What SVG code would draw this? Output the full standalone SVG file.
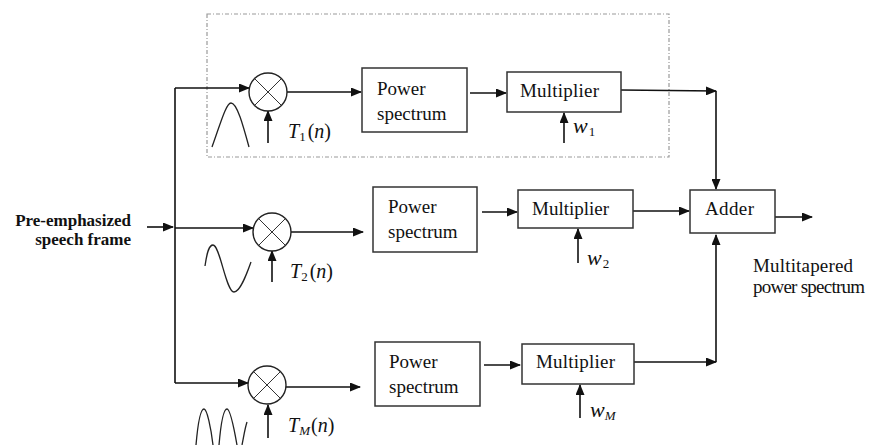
<svg xmlns="http://www.w3.org/2000/svg" width="876" height="445" viewBox="0 0 876 445">
<defs>
<marker id="ah" markerUnits="userSpaceOnUse" markerWidth="11" markerHeight="9" refX="10" refY="4.5" orient="auto">
<path d="M0,0 L11,4.5 L0,9 z" fill="#111"/>
</marker>
<style>
.box{fill:#fff;stroke:#333;stroke-width:1.5}
.ln{fill:none;stroke:#111;stroke-width:1.6}
.arr{fill:none;stroke:#111;stroke-width:1.6;marker-end:url(#ah)}
.circ{fill:#fff;stroke:#222;stroke-width:1.4}
.x{stroke:#333;stroke-width:1}
.t{font-family:"Liberation Serif",serif;font-size:19px;fill:#111}
.tb{font-family:"Liberation Serif",serif;font-size:17px;font-weight:bold;fill:#111}
.m{font-family:"Liberation Serif",serif;font-size:20px;fill:#111}
.i{font-style:italic}
.wave{fill:none;stroke:#222;stroke-width:1.3}
</style>
</defs>
<rect width="876" height="445" fill="#fff"/>

<rect id="group-box" x="207" y="14" width="462" height="143" fill="none" stroke="#9a9a9a" stroke-width="1.2" stroke-dasharray="4 2 1 2"/>

<g id="connectors">
<path class="arr" d="M147,227 L173,227"/>
<path class="ln" d="M175,88 L175,383" stroke="#444"/>
<path class="arr" d="M175,88 L249,88"/>
<path class="arr" d="M287,92 L361,92"/>
<path class="arr" d="M268,143 L268,111"/>
<path class="arr" d="M470,93 L506,93"/>
<path class="arr" d="M564,143 L564,113"/>
<path class="arr" d="M621,90 L716,91"/>
<path class="arr" d="M716,91 L716,189"/>
<path class="arr" d="M175,228 L253,228"/>
<path class="arr" d="M291,232 L363,232"/>
<path class="arr" d="M272,282 L272,251"/>
<path class="arr" d="M482,212 L517,212"/>
<path class="arr" d="M578,263 L578,229"/>
<path class="arr" d="M633,211 L689,211"/>
<path class="arr" d="M775,217 L812,217"/>
<path class="arr" d="M175,383 L248,383"/>
<path class="arr" d="M286,387 L360,387"/>
<path class="arr" d="M268,438 L268,405"/>
<path class="arr" d="M484,365 L520,365"/>
<path class="arr" d="M580,418 L580,385"/>
<path class="arr" d="M634,362 L716,362"/>
<path class="arr" d="M716,362 L716,235"/>
</g>

<g id="input-label">
<text class="tb" x="131" y="226" text-anchor="end">Pre-emphasized</text>
<text class="tb" x="131" y="245" text-anchor="end">speech frame</text>
</g>

<g id="mult-circle-1">
<circle class="circ" cx="268" cy="92" r="19"/>
<line class="x" x1="254.6" y1="78.6" x2="281.4" y2="105.4"/>
<line class="x" x1="281.4" y1="78.6" x2="254.6" y2="105.4"/>
</g>
<g id="mult-circle-2">
<circle class="circ" cx="272" cy="232" r="19"/>
<line class="x" x1="258.6" y1="218.6" x2="285.4" y2="245.4"/>
<line class="x" x1="285.4" y1="218.6" x2="258.6" y2="245.4"/>
</g>
<g id="mult-circle-M">
<circle class="circ" cx="267" cy="385" r="19"/>
<line class="x" x1="253.6" y1="371.6" x2="280.4" y2="398.4"/>
<line class="x" x1="280.4" y1="371.6" x2="253.6" y2="398.4"/>
</g>

<g id="taper-1">
<path class="wave" d="M212,147 C220,125 226,103 231,103 C237,103 243,125 249,147"/>
<text class="m" x="288" y="138"><tspan class="i">T</tspan><tspan font-size="13" dy="3">1</tspan><tspan dy="-3" dx="2">(</tspan><tspan class="i">n</tspan>)</text>
</g>
<g id="taper-2">
<path class="wave" d="M205,266 C207,252 209,245 213,245 C220,245 226,292 234,292 C240,292 246,276 251,262"/>
<text class="m" x="290" y="278"><tspan class="i">T</tspan><tspan font-size="13" dy="3">2</tspan><tspan dy="-3" dx="2">(</tspan><tspan class="i">n</tspan>)</text>
</g>
<g id="taper-M">
<path class="wave" stroke="#888" stroke-width="1.1" d="M196,445 C198,422 201,409 204,409 C207,409 211,428 213,445 M219,445 C221,422 224,409 227,409 C230,409 234,428 237,445 M242,445 C244,435 245,428 247,422"/>
<text class="m" x="288" y="432"><tspan class="i">T</tspan><tspan class="i" font-size="13" dy="3">M</tspan><tspan dy="-3" dx="1">(</tspan><tspan class="i">n</tspan>)</text>
</g>

<g id="power-spectrum-1">
<rect class="box" x="362" y="68" width="105" height="64"/>
<text class="t" x="377" y="95">Power</text>
<text class="t" x="377" y="120">spectrum</text>
</g>
<g id="power-spectrum-2">
<rect class="box" x="373" y="187" width="104" height="65"/>
<text class="t" x="388" y="213">Power</text>
<text class="t" x="388" y="238">spectrum</text>
</g>
<g id="power-spectrum-M">
<rect class="box" x="375" y="342" width="105" height="64"/>
<text class="t" x="389" y="368">Power</text>
<text class="t" x="389" y="393">spectrum</text>
</g>

<g id="multiplier-1">
<rect class="box" x="507" y="72" width="114" height="40"/>
<text class="t" x="520" y="97" textLength="79">Multiplier</text>
<text class="m" x="573" y="133"><tspan class="i" font-size="22">w</tspan><tspan font-size="13" dy="3" dx="1">1</tspan></text>
</g>
<g id="multiplier-2">
<rect class="box" x="518" y="190" width="115" height="38"/>
<text class="t" x="532" y="215" textLength="77">Multiplier</text>
<text class="m" x="587" y="265"><tspan class="i" font-size="22">w</tspan><tspan font-size="13" dy="3" dx="1">2</tspan></text>
</g>
<g id="multiplier-M">
<rect class="box" x="522" y="344" width="112" height="40"/>
<text class="t" x="536" y="368" textLength="79">Multiplier</text>
<text class="m" x="590" y="417"><tspan class="i" font-size="22">w</tspan><tspan class="i" font-size="13" dy="3">M</tspan></text>
</g>

<g id="adder">
<rect class="box" x="690" y="190" width="85" height="43"/>
<text class="t" x="705" y="215" textLength="49">Adder</text>
</g>

<g id="output-label">
<text class="t" x="753" y="272" textLength="100">Multitapered</text>
<text class="t" x="753" y="293" textLength="112">power spectrum</text>
</g>
</svg>
